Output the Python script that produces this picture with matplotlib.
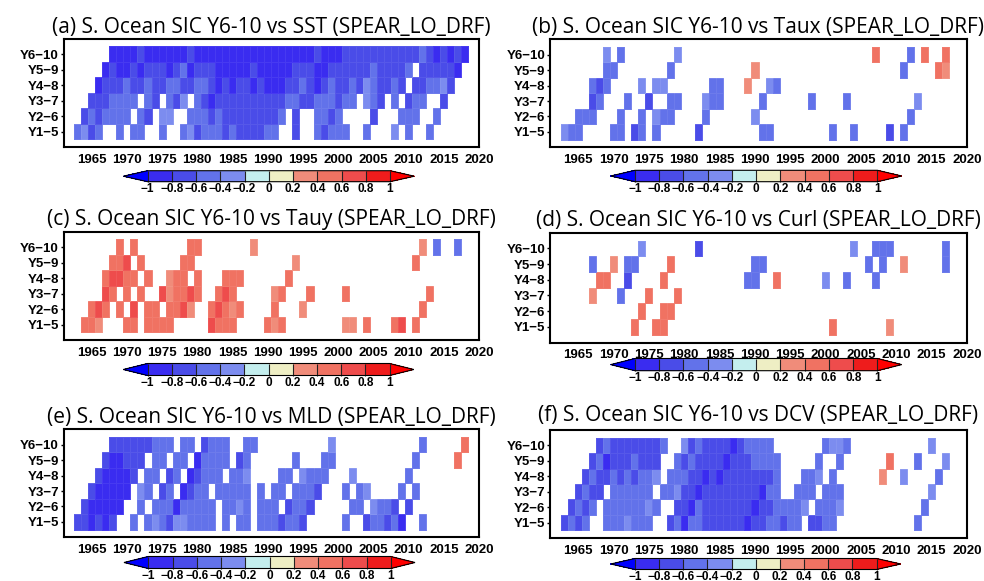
import numpy as np
import matplotlib
matplotlib.use("Agg")
import matplotlib.pyplot as plt
from matplotlib.colors import ListedColormap, BoundaryNorm

_ = np.nan

# ---------------------------------------------------------------- data
years = np.arange(1963, 2019)            # one column per start year
row_labels = ["Y6\u221210", "Y5\u22129", "Y4\u22128", "Y3\u22127", "Y2\u22126", "Y1\u22125"]
year_ticks = [1965, 1970, 1975, 1980, 1985, 1990, 1995, 2000, 2005, 2010, 2015, 2020]
levels = [-1.0, -0.8, -0.6, -0.4, -0.2, 0.0, 0.2, 0.4, 0.6, 0.8, 1.0]
level_labels = ["\u22121", "\u22120.8", "\u22120.6", "\u22120.4", "\u22120.2", "0",
                "0.2", "0.4", "0.6", "0.8", "1"]
bin_colors = ["#3a2cf0", "#4a4ce8", "#6272ea", "#7c8cef", "#c4eeee",
              "#eeeec4", "#f08c7a", "#f07262", "#ee4c4c", "#ee1c1c"]
under_color = "#0000ff"
over_color = "#ff0000"

# significant correlations, rows top (Y6-10) to bottom (Y1-5), years 1963-2018
sst = [
    [_, _, _, _, _, -.9, -.9, -.9, -.9, -.7, -.9, -.9, -.9, -.9, -.9, -.9, -.7, -.9, -.9, -.9, -.9, -.9, -.9, -.9, -.9, -.9, -.9,
     -.9, -.9, -.9, -.9, -.9, -.9, -.9, -.7, -.9, -.9, -.9, -.7, -.7, -.7, -.7, -.7, -.7, -.7, -.7, -.7, -.7, -.7, -.5, -.7, -.9, -.7, -.9, -.7, -.9],
    [_, _, _, _, -.9, -.7, -.9, -.9, -.7, -.9, -.7, -.7, -.7, -.9, -.7, -.5, -.9, -.7, -.7, -.7, -.9, -.9, -.9, -.9, -.9, -.7, -.9,
     -.9, -.9, -.9, -.9, -.7, -.7, -.7, -.9, -.9, -.7, -.7, -.7, -.7, -.7, -.7, -.5, -.7, -.7, -.7, -.7, -.5, _, -.7, -.7, -.7, -.7, -.7, -.9, _],
    [_, _, _, -.9, -.7, -.7, -.7, -.5, -.7, -.7, -.5, -.7, -.7, -.5, -.5, -.7, -.7, -.5, -.5, -.7, -.9, -.7, -.9, -.7, -.7, -.9, -.7,
     -.9, -.9, -.9, -.7, -.7, -.5, -.7, -.9, -.7, -.5, -.7, -.7, -.5, -.7, -.3, -.5, -.7, -.7, -.5, -.7, _, -.7, -.7, -.5, -.5, -.3, -.7, _, _],
    [_, _, -.7, -.7, -.7, -.5, -.5, -.5, -.5, _, -.5, -.7, _, -.5, -.7, -.3, _, -.5, -.7, -.9, -.7, -.7, -.7, -.7, -.7, -.7, -.7,
     -.7, -.7, -.7, -.5, -.5, -.7, -.7, -.5, -.5, -.5, -.7, -.5, -.5, _, -.3, -.5, -.7, _, -.5, _, -.7, -.5, -.5, _, _, -.7, _, _, _],
    [_, -.7, -.5, -.7, -.5, -.5, -.5, -.5, _, -.5, -.7, _, -.3, -.3, _, _, -.5, -.5, -.5, -.7, -.5, -.7, -.7, -.7, -.7, -.7, -.7,
     -.7, -.7, -.5, _, -.7, _, _, -.5, -.5, -.7, -.5, _, _, _, _, -.7, _, _, _, -.5, -.5, -.5, _, _, -.5, _, _, _, _],
    [-.5, -.3, -.7, -.5, _, _, -.5, _, -.5, -.5, _, _, -.5, _, _, -.5, -.3, -.7, -.5, -.5, -.5, -.7, -.5, -.7, -.7, -.7, -.7,
     -.5, -.5, _, _, -.7, _, _, -.5, -.7, -.5, -.5, -.5, _, _, -.5, _, _, _, -.3, _, -.5, _, _, -.5, _, _, _, _, _],
]

taux = [
    [_, _, _, _, _, _, -.3, _, -.5, _, _, _, _, _, _, _, -.3, _, _, _, _, _, _, _, _, _, _,
     _, _, _, _, _, _, _, _, _, _, _, _, _, _, _, _, _, .5, _, _, _, _, -.5, _, .5, _, _, .5, _],
    [_, _, _, _, _, _, -.5, -.5, _, _, _, _, _, _, _, -.5, _, _, _, _, _, _, _, _, _, _, _,
     .3, _, _, _, _, _, _, _, _, _, _, _, _, _, _, _, _, _, _, _, _, -.5, _, _, _, _, .5, .3, _],
    [_, _, _, _, -.5, -.7, -.5, _, _, _, _, -.3, _, -.3, -.3, _, _, _, _, _, _, -.5, -.5, _, _, _, .3,
     _, _, -.3, -.5, _, _, _, _, _, _, _, _, _, _, _, _, _, _, _, _, _, _, _, _, _, _, _, _, _],
    [_, _, _, _, -.7, -.5, _, _, _, -.5, _, _, -.7, _, _, -.5, -.5, _, _, _, -.3, -.5, -.5, _, _, _, _,
     _, -.5, _, _, _, _, _, _, -.5, _, _, _, _, -.5, _, _, _, _, _, _, _, _, _, -.3, _, _, _, _, _],
    [_, _, -.5, -.5, -.5, _, _, _, -.5, _, _, -.5, _, -.3, -.5, -.5, _, _, _, _, -.5, _, _, _, _, _, _,
     -.3, _, _, _, _, _, _, _, _, _, _, _, _, _, _, _, _, _, _, _, _, _, -.5, _, _, _, _, _, _],
    [-.3, -.5, -.5, _, _, _, _, -.5, -.5, _, -.7, -.5, _, -.5, _, _, _, _, _, -.7, _, _, _, _, _, _, _,
     _, -.5, -.5, _, _, _, _, _, _, _, _, -.5, _, _, -.5, _, _, _, _, -.7, _, -.5, _, _, _, _, _, _, _],
]

tauy = [
    [_, _, _, _, _, _, .5, _, .5, _, _, _, _, _, _, _, .5, .5, _, _, _, _, _, _, _, .3, _,
     _, _, _, _, _, _, _, _, _, _, _, _, _, _, _, _, _, _, _, _, _, _, .3, _, -.5, _, _, -.5, _],
    [_, _, _, _, _, .5, .5, .7, _, .5, _, _, _, _, _, .5, .5, _, _, _, _, _, _, _, _, _, _,
     _, _, _, _, .3, _, _, _, _, _, _, _, _, _, _, _, _, _, _, _, _, .5, _, _, _, _, _, _, _],
    [_, _, _, _, .5, .7, .7, .5, .5, _, .5, _, _, .3, .5, .5, _, .5, _, _, _, .5, .5, .5, _, _, _,
     _, _, _, .5, _, _, _, _, _, _, _, _, _, _, _, _, _, _, _, _, _, _, _, _, _, _, _, _, _],
    [_, _, _, _, .7, .5, _, .5, _, .5, _, _, .7, .3, .5, .5, .7, .5, _, _, .5, .7, .5, _, _, _, _,
     _, .3, .5, _, _, _, .5, _, _, _, _, .5, _, _, _, _, _, _, _, _, _, _, _, .5, _, _, _, _, _],
    [_, _, .5, .7, .5, _, .5, _, .7, _, .5, .5, _, .5, .5, .7, .3, _, _, .5, .7, .5, .3, .5, _, _, _,
     _, .5, _, _, _, .3, _, _, _, _, _, _, _, _, _, _, _, _, _, _, _, _, .5, _, _, _, _, _, _],
    [_, .5, .5, .3, _, _, _, .5, .5, _, .5, .5, .5, .5, _, _, _, _, _, .7, .5, .5, .5, _, _, _, _,
     .5, .3, .5, _, _, _, _, _, _, _, _, .3, .3, _, .5, _, _, _, .5, .7, _, .5, _, _, _, _, _, _, _],
]

curl = [
    [_, _, _, _, _, _, _, _, _, _, _, -.3, _, _, _, _, _, _, _, -.7, _, _, _, _, _, _, _,
     _, _, _, _, _, _, _, _, _, _, _, _, _, _, -.3, _, _, -.5, -.5, -.5, _, _, _, _, _, _, _, -.5, _],
    [_, _, _, _, -.5, _, _, .3, _, -.5, -.5, _, _, _, _, .5, _, _, _, _, _, _, _, _, _, _, _,
     -.5, -.5, _, _, _, _, _, _, _, _, _, _, _, _, _, _, -.5, _, -.5, _, _, .3, _, _, _, _, _, -.5, _],
    [_, _, _, _, _, .5, .5, _, _, -.7, _, _, _, _, .5, _, _, _, _, _, _, _, _, _, _, _, -.5,
     -.5, _, _, .5, _, _, _, _, _, _, -.3, _, _, -.5, _, _, _, -.5, _, _, _, _, _, _, _, _, _, _, _],
    [_, _, _, _, .3, _, _, _, -.5, _, _, _, .5, _, _, _, .5, _, _, _, _, _, _, _, _, _, _,
     _, _, _, _, _, _, _, _, _, _, _, _, _, _, _, _, _, _, _, _, _, _, _, _, _, _, _, _, _],
    [_, _, _, _, _, _, _, _, _, _, _, .5, _, _, .5, .5, _, _, _, _, _, _, _, _, _, _, _,
     _, _, _, _, _, _, _, _, _, _, _, _, _, _, _, _, _, _, _, _, _, _, _, _, _, _, _, _, _],
    [_, _, _, _, _, _, _, _, _, _, .5, _, _, .5, .5, _, _, _, _, _, _, _, _, _, _, _, _,
     _, _, _, _, _, _, _, _, _, _, _, .5, _, _, _, _, _, _, _, .3, _, _, _, _, _, _, _, _, _],
]

mld = [
    [_, _, _, _, _, -.7, -.7, -.7, -.7, -.7, -.7, -.5, -.5, -.5, _, -.5, -.5, _, -.7, -.5, -.5, -.5, _, _, -.5, -.5, _,
     _, _, _, _, _, _, _, _, _, -.3, _, _, _, _, _, _, _, _, _, _, _, _, -.5, _, _, _, _, _, .5],
    [_, _, _, _, -.7, -.9, -.9, -.7, -.7, -.7, _, -.5, -.5, _, -.5, -.5, _, -.9, -.5, -.5, -.5, -.5, _, -.7, -.5, _, _,
     _, _, _, _, -.5, _, _, _, -.5, -.5, _, _, _, _, _, _, _, _, _, _, _, -.5, _, _, _, _, _, .5, _],
    [_, _, _, -.7, -.9, -.9, -.9, -.9, -.7, _, -.5, -.5, _, -.7, -.5, _, -.9, -.7, -.5, -.5, -.5, _, -.5, -.5, -.3, _, _,
     _, _, -.5, -.5, _, -.3, -.5, -.5, -.5, _, _, _, -.3, _, _, _, _, _, _, _, -.5, _, _, _, _, _, _, _, _],
    [_, _, -.7, -.9, -.9, -.9, -.9, -.9, _, -.3, -.5, _, -.7, -.5, _, -.9, -.7, -.5, -.5, _, -.5, -.5, -.5, -.5, -.5, _, -.5,
     _, -.5, -.5, _, -.5, -.5, -.5, -.7, _, _, _, -.5, _, -.5, -.3, _, _, _, _, -.5, _, -.5, _, _, _, _, _, _, _],
    [_, -.7, -.9, -.9, -.9, -.9, -.9, _, _, -.5, _, -.5, -.5, -.5, -.9, -.5, -.5, -.5, -.5, -.5, _, -.5, -.5, -.3, -.5, _, -.5,
     -.5, -.5, _, -.7, -.5, -.5, -.7, _, _, _, _, _, -.5, -.5, _, -.3, -.5, -.5, -.7, _, -.7, _, _, _, _, _, _, _, _],
    [-.7, -.7, -.9, -.7, -.9, -.7, _, _, -.5, _, -.5, -.3, -.5, -.7, -.3, -.3, -.5, -.5, -.5, -.5, _, -.5, _, -.5, -.5, _, -.5,
     -.5, -.5, -.7, -.5, -.5, -.7, _, _, _, _, _, -.5, _, _, -.7, -.5, -.5, -.7, -.5, -.9, _, _, -.5, _, _, _, _, _, _],
]

dcv = [
    [_, _, _, _, _, -.7, -.5, -.7, -.7, -.7, -.7, -.7, -.7, -.7, -.5, _, _, -.3, -.7, -.5, -.7, -.7, -.7, -.7, -.9, -.7, -.5,
     -.5, -.5, -.5, _, _, _, _, _, _, _, -.5, -.3, -.3, -.5, _, _, _, _, _, _, _, _, _, _, _, -.3, _, _, _],
    [_, _, _, _, -.7, -.5, -.9, -.7, -.7, -.7, -.5, -.7, -.7, -.7, _, _, -.5, -.7, -.5, -.7, -.7, -.7, -.7, -.9, -.7, -.7, -.7,
     -.5, -.5, -.5, -.5, _, _, _, _, _, -.5, _, _, -.5, _, _, _, _, _, _, .5, _, _, _, -.5, _, _, _, -.3, _],
    [_, _, _, -.7, -.5, -.7, -.7, -.5, -.7, -.5, -.7, -.5, -.5, -.3, _, -.5, -.5, -.5, -.7, -.7, -.9, -.7, -.9, -.7, -.7, -.7, -.7,
     -.7, -.7, -.7, -.5, _, _, _, -.5, -.5, -.3, _, -.5, _, _, _, _, _, _, .3, _, _, -.3, _, _, _, _, -.5, _, _],
    [_, _, -.7, -.5, -.7, -.7, _, -.5, -.5, -.5, -.5, -.5, -.5, _, -.5, -.5, -.3, -.7, -.7, -.9, -.7, -.7, -.7, -.7, -.7, -.7, -.7,
     -.7, -.9, -.5, -.5, _, _, -.5, -.5, -.5, _, -.5, -.5, -.5, _, _, _, _, _, _, _, _, _, _, _, _, -.3, _, _, _],
    [_, -.7, -.5, -.7, -.5, _, -.5, -.5, -.5, -.5, -.5, -.5, -.3, -.5, _, _, -.7, -.7, -.9, -.5, -.7, -.7, -.7, -.7, -.7, -.7, -.7,
     -.9, -.7, -.7, -.5, -.5, -.5, -.5, -.3, _, -.5, -.5, -.5, -.3, _, _, _, _, _, _, _, _, _, _, _, -.5, _, _, _, _],
    [-.7, -.5, -.7, -.5, _, _, -.5, -.5, -.5, -.3, -.5, -.5, -.5, _, _, -.7, -.5, -.9, -.5, -.5, -.7, -.7, -.7, -.7, -.7, -.7, -.9,
     -.7, -.7, -.5, -.5, -.7, -.5, -.5, _, -.7, -.7, -.5, -.5, _, _, _, _, _, _, _, _, _, _, _, -.5, _, _, _, _, _],
]

titles = [
    "(a) S. Ocean SIC Y6-10 vs SST (SPEAR_LO_DRF)",
    "(b) S. Ocean SIC Y6-10 vs Taux (SPEAR_LO_DRF)",
    "(c) S. Ocean SIC Y6-10 vs Tauy (SPEAR_LO_DRF)",
    "(d) S. Ocean SIC Y6-10 vs Curl (SPEAR_LO_DRF)",
    "(e) S. Ocean SIC Y6-10 vs MLD (SPEAR_LO_DRF)",
    "(f) S. Ocean SIC Y6-10 vs DCV (SPEAR_LO_DRF)",
]
fields = [sst, taux, tauy, curl, mld, dcv]

# ---------------------------------------------------------------- layout (pixels)
W, H = 984, 581
# plot box (x0, y0, x1, y1), colour bar body (x0, y0, x1, y1), title baseline y
layout = [
    ((63.5, 38.7, 479.0, 147.0), (123.3, 170.7, 414.3, 181.7), 32.5),
    ((550.0, 39.3, 967.0, 147.3), (610.7, 170.3, 901.7, 181.7), 32.5),
    ((63.5, 231.7, 479.0, 340.0), (123.3, 363.5, 413.8, 375.5), 225.5),
    ((550.0, 232.7, 967.0, 342.5), (610.7, 358.5, 901.7, 370.7), 226.0),
    ((63.5, 429.3, 479.0, 537.3), (124.0, 556.5, 415.0, 568.5), 423.0),
    ((550.0, 430.0, 967.0, 538.0), (610.7, 558.5, 900.7, 569.5), 421.0),
]


def fig_rect(x0, y0, x1, y1):
    return [x0 / W, 1 - y1 / H, (x1 - x0) / W, (y1 - y0) / H]


cmap = ListedColormap(bin_colors)
cmap.set_under(under_color)
cmap.set_over(over_color)
cmap.set_bad((1, 1, 1, 0))
norm = BoundaryNorm(levels, cmap.N)

tick_font = dict(family="Liberation Sans", weight="bold")

fig = plt.figure(figsize=(W / 100, H / 100), dpi=100)

x_edges = np.append(years - 0.5, years[-1] + 0.5)
y_edges = np.arange(0.5, 7.0, 1.0)

for title, field, (box, cbar, base_y) in zip(titles, fields, layout):
    ax = fig.add_axes(fig_rect(*box))
    z = np.ma.masked_invalid(np.array(field, dtype=float)[::-1])
    ax.pcolormesh(x_edges, y_edges, z, cmap=cmap, norm=norm,
                  edgecolors=(1, 1, 1, 0.07), linewidth=0.4)
    ax.set_xlim(1961, 2020)
    ax.set_ylim(0, 7)
    ax.set_xticks(year_ticks)
    ax.set_xticklabels([str(t) for t in year_ticks], fontsize=9.5, **tick_font)
    ax.set_yticks(range(6, 0, -1))
    ax.set_yticklabels(row_labels, fontsize=9.5, **tick_font)
    ax.tick_params(axis="x", length=0, pad=5)
    ax.tick_params(axis="y", length=2.3, width=1.0, direction="out", pad=1)
    for s in ax.spines.values():
        s.set_linewidth(1.5)

    fig.text((box[0] + box[2]) / 2 / W, 1 - base_y / H, title,
             ha="center", va="baseline", fontsize=15, family="Open Sans")

    cax = fig.add_axes(fig_rect(*cbar))
    sm = plt.cm.ScalarMappable(norm=norm, cmap=cmap)
    cb = fig.colorbar(sm, cax=cax, orientation="horizontal", extend="both",
                      extendfrac=0.1, drawedges=True, ticks=levels)
    cb.ax.set_xticklabels(level_labels, fontsize=8.5, **tick_font)
    cb.ax.tick_params(length=0, pad=1.0)
    cb.outline.set_linewidth(0.8)
    cb.dividers.set_linewidth(0.8)
    cb.dividers.set_color("#222222")

fig.savefig("out.png", dpi=100)
